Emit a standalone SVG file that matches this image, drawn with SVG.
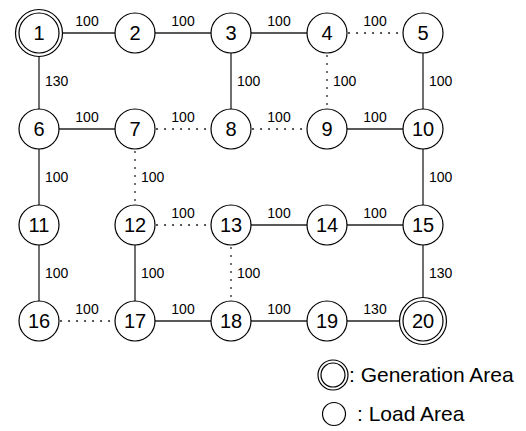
<svg xmlns="http://www.w3.org/2000/svg" width="526" height="431" viewBox="0 0 526 431">
<style>
.n{fill:#fff;stroke:#000;stroke-width:1.2}
.t{font-family:"Liberation Sans",Arial,sans-serif;font-size:20px;fill:#000;text-anchor:middle}
.s{stroke:#222;stroke-width:1.3;fill:none}
.d{stroke:#222;stroke-width:1.3;fill:none;stroke-dasharray:2 6}
.l{font-family:"Liberation Sans",Arial,sans-serif;font-size:14px;fill:#000}
.c{text-anchor:middle}
.g{font-family:"Liberation Sans",Arial,sans-serif;font-size:21px;fill:#000}
</style>
<rect width="526" height="431" fill="#fff"/>
<g id="connectors">
<line class="s" x1="39" y1="33" x2="135" y2="33"/>
<line class="s" x1="135" y1="33" x2="231" y2="33"/>
<line class="s" x1="231" y1="33" x2="327" y2="33"/>
<line class="d" x1="348" y1="33" x2="403" y2="33"/>
<line class="s" x1="39" y1="33" x2="39" y2="129"/>
<line class="s" x1="231" y1="33" x2="231" y2="129"/>
<line class="d" x1="327" y1="55" x2="327" y2="110"/>
<line class="s" x1="423" y1="33" x2="423" y2="129"/>
<line class="s" x1="39" y1="129" x2="135" y2="129"/>
<line class="d" x1="156" y1="129" x2="211" y2="129"/>
<line class="d" x1="252" y1="129" x2="307" y2="129"/>
<line class="s" x1="327" y1="129" x2="423" y2="129"/>
<line class="s" x1="39" y1="129" x2="39" y2="225"/>
<line class="d" x1="135" y1="151" x2="135" y2="206"/>
<line class="s" x1="423" y1="129" x2="423" y2="225"/>
<line class="d" x1="156" y1="225" x2="211" y2="225"/>
<line class="s" x1="231" y1="225" x2="327" y2="225"/>
<line class="s" x1="327" y1="225" x2="423" y2="225"/>
<line class="s" x1="39" y1="225" x2="39" y2="321"/>
<line class="s" x1="135" y1="225" x2="135" y2="321"/>
<line class="d" x1="231" y1="247" x2="231" y2="302"/>
<line class="s" x1="423" y1="225" x2="423" y2="321"/>
<line class="d" x1="60" y1="321" x2="115" y2="321"/>
<line class="s" x1="135" y1="321" x2="231" y2="321"/>
<line class="s" x1="231" y1="321" x2="327" y2="321"/>
<line class="s" x1="327" y1="321" x2="423" y2="321"/>
</g>
<g id="edge-labels" class="l">
<text class="c" x="87" y="26">100</text>
<text class="c" x="183" y="26">100</text>
<text class="c" x="279" y="26">100</text>
<text class="c" x="375" y="26">100</text>
<text x="45" y="86">130</text>
<text x="237" y="86">100</text>
<text x="333" y="86">100</text>
<text x="429" y="86">100</text>
<text class="c" x="87" y="122">100</text>
<text class="c" x="183" y="122">100</text>
<text class="c" x="279" y="122">100</text>
<text class="c" x="375" y="122">100</text>
<text x="45" y="182">100</text>
<text x="141" y="182">100</text>
<text x="429" y="182">100</text>
<text class="c" x="183" y="218">100</text>
<text class="c" x="279" y="218">100</text>
<text class="c" x="375" y="218">100</text>
<text x="45" y="278">100</text>
<text x="141" y="278">100</text>
<text x="237" y="278">100</text>
<text x="429" y="278">130</text>
<text class="c" x="87" y="314">100</text>
<text class="c" x="183" y="314">100</text>
<text class="c" x="279" y="314">100</text>
<text class="c" x="375" y="314">130</text>
</g>
<g id="node1"><circle class="n" cx="39" cy="33" r="23.5"/><circle class="n" cx="39" cy="33" r="20"/><text class="t" x="39" y="40">1</text></g>
<g id="node2"><circle class="n" cx="135" cy="33" r="20"/><text class="t" x="135" y="40">2</text></g>
<g id="node3"><circle class="n" cx="231" cy="33" r="20"/><text class="t" x="231" y="40">3</text></g>
<g id="node4"><circle class="n" cx="327" cy="33" r="20"/><text class="t" x="327" y="40">4</text></g>
<g id="node5"><circle class="n" cx="423" cy="33" r="20"/><text class="t" x="423" y="40">5</text></g>
<g id="node6"><circle class="n" cx="39" cy="129" r="20"/><text class="t" x="39" y="136">6</text></g>
<g id="node7"><circle class="n" cx="135" cy="129" r="20"/><text class="t" x="135" y="136">7</text></g>
<g id="node8"><circle class="n" cx="231" cy="129" r="20"/><text class="t" x="231" y="136">8</text></g>
<g id="node9"><circle class="n" cx="327" cy="129" r="20"/><text class="t" x="327" y="136">9</text></g>
<g id="node10"><circle class="n" cx="423" cy="129" r="20"/><text class="t" x="423" y="136">10</text></g>
<g id="node11"><circle class="n" cx="39" cy="225" r="20"/><text class="t" x="39" y="232">11</text></g>
<g id="node12"><circle class="n" cx="135" cy="225" r="20"/><text class="t" x="135" y="232">12</text></g>
<g id="node13"><circle class="n" cx="231" cy="225" r="20"/><text class="t" x="231" y="232">13</text></g>
<g id="node14"><circle class="n" cx="327" cy="225" r="20"/><text class="t" x="327" y="232">14</text></g>
<g id="node15"><circle class="n" cx="423" cy="225" r="20"/><text class="t" x="423" y="232">15</text></g>
<g id="node16"><circle class="n" cx="39" cy="321" r="20"/><text class="t" x="39" y="328">16</text></g>
<g id="node17"><circle class="n" cx="135" cy="321" r="20"/><text class="t" x="135" y="328">17</text></g>
<g id="node18"><circle class="n" cx="231" cy="321" r="20"/><text class="t" x="231" y="328">18</text></g>
<g id="node19"><circle class="n" cx="327" cy="321" r="20"/><text class="t" x="327" y="328">19</text></g>
<g id="node20"><circle class="n" cx="423" cy="321" r="23.5"/><circle class="n" cx="423" cy="321" r="20"/><text class="t" x="423" y="328">20</text></g>
<g id="legend-generation"><circle class="n" cx="333" cy="375" r="15"/><circle class="n" cx="333" cy="375" r="12"/><text class="g" x="349" y="382">: Generation Area</text></g>
<g id="legend-load"><circle class="n" cx="334" cy="414" r="11.5"/><text class="g" x="357" y="421">: Load Area</text></g>
</svg>
